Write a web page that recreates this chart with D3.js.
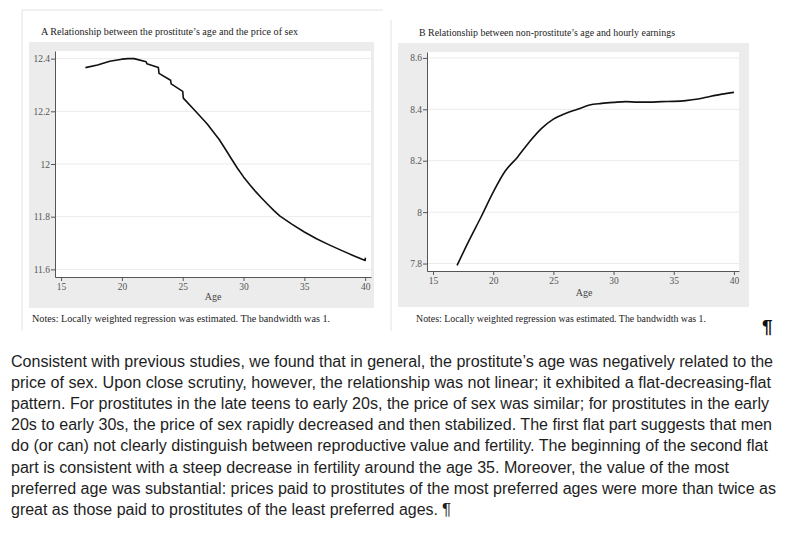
<!DOCTYPE html>
<html>
<head>
<meta charset="utf-8">
<script src="https://cdn.jsdelivr.net/npm/d3@7"></script>
<style>
  body { margin: 0; background: #fff; }
  svg { display: block; }
  .tick text { font-family: "Liberation Serif", "Times New Roman", serif; fill: #555; }
  .panel-title, .notes, .axis-label { font-family: "Liberation Serif", "Times New Roman", serif; fill: #222; }
  .para { font-family: "Liberation Sans", Arial, sans-serif; font-size: 16px; fill: #1e1e1e; }
</style>
</head>
<body>
<svg id="page" width="788" height="533"></svg>
<script>
// Panel A: prostitute's age vs log price of sex
const ageA = [17, 18, 19, 20, 20.5, 21, 22, 22.05, 23, 23.05, 24, 24.05, 25, 25.05, 26, 27, 28, 28.5, 29, 29.5, 30, 30.5, 31, 31.5, 32, 32.5, 33, 34, 35, 36, 37, 38, 39, 40, 40.02];
const priceA = [12.366, 12.376, 12.39, 12.398, 12.40, 12.40, 12.388, 12.381, 12.366, 12.344, 12.318, 12.304, 12.276, 12.25, 12.203, 12.153, 12.093, 12.057, 12.02, 11.984, 11.951, 11.922, 11.895, 11.87, 11.846, 11.823, 11.802, 11.771, 11.742, 11.716, 11.694, 11.673, 11.653, 11.634, 11.644];
const yTicksA = [11.6, 11.8, 12, 12.2, 12.4];

// Panel B: non-prostitute's age vs log hourly earnings
const ageB = [17, 18, 19, 20, 21, 22, 23, 24, 25, 26, 27, 28, 29, 30, 31, 32, 33, 34, 35, 36, 37, 38, 39, 40];
const earnB = [7.793, 7.89, 7.982, 8.078, 8.16, 8.213, 8.273, 8.325, 8.362, 8.384, 8.40, 8.417, 8.423, 8.427, 8.43, 8.428, 8.428, 8.43, 8.431, 8.434, 8.44, 8.45, 8.459, 8.466];
const yTicksB = [7.8, 8, 8.2, 8.4, 8.6];

const xTicks = [15, 20, 25, 30, 35, 40];

const paragraph = [
  "Consistent with previous studies, we found that in general, the prostitute\u2019s age was negatively related to the",
  "price of sex. Upon close scrutiny, however, the relationship was not linear; it exhibited a flat-decreasing-flat",
  "pattern. For prostitutes in the late teens to early 20s, the price of sex was similar; for prostitutes in the early",
  "20s to early 30s, the price of sex rapidly decreased and then stabilized. The first flat part suggests that men",
  "do (or can) not clearly distinguish between reproductive value and fertility. The beginning of the second flat",
  "part is consistent with a steep decrease in fertility around the age 35. Moreover, the value of the most",
  "preferred age was substantial: prices paid to prostitutes of the most preferred ages were more than twice as",
  "great as those paid to prostitutes of the least preferred ages."
];
const paraWidths = [762, 760, 758, 761, 757, 718, 765, 427];

const svg = d3.select("#page");

// light page frames around the two figures
svg.append("path").attr("d", "M22,331V10H383").attr("fill", "none").attr("stroke", "#e2e2e2");
svg.append("path").attr("d", "M391,331V20").attr("fill", "none").attr("stroke", "#e2e2e2");

function drawPanel(p) {
  // Stata style grey graph region and white plot region
  svg.append("rect")
    .attr("x", p.outer[0]).attr("y", p.outer[1])
    .attr("width", p.outer[2] - p.outer[0]).attr("height", p.outer[3] - p.outer[1])
    .attr("fill", "#ececec");
  svg.append("rect")
    .attr("x", p.plot[0]).attr("y", p.plot[1])
    .attr("width", p.plot[2] - p.plot[0]).attr("height", p.plot[3] - p.plot[1])
    .attr("fill", "#fff");

  const xScale = d3.scaleLinear().domain(p.xDomain).range([p.plot[0], p.plot[2]]);
  const yScale = d3.scaleLinear().domain(p.yDomain).range([p.plot[3], p.plot[1]]);

  // horizontal grid lines
  svg.append("g").selectAll("line")
    .data(p.yTicks)
    .enter().append("line")
    .attr("x1", p.plot[0]).attr("x2", p.plot[2])
    .attr("y1", d => yScale(d)).attr("y2", d => yScale(d))
    .attr("stroke", "#ebebeb").attr("stroke-width", 1);

  const xAxis = svg.append("g")
    .attr("transform", "translate(0," + p.plot[3] + ")")
    .call(d3.axisBottom(xScale).tickValues(xTicks).tickSize(4).tickPadding(2).tickSizeOuter(0));
  xAxis.selectAll("text").style("font-size", "9.5px");

  const yAxis = svg.append("g")
    .attr("transform", "translate(" + p.plot[0] + ",0)")
    .call(d3.axisLeft(yScale).tickValues(p.yTicks).tickFormat(d3.format("")).tickSize(4).tickPadding(1).tickSizeOuter(0));
  yAxis.selectAll("text").style("font-size", "9.5px");

  [xAxis, yAxis].forEach(g => {
    g.select(".domain").attr("stroke", "#555");
    g.selectAll(".tick line").attr("stroke", "#555");
  });

  const line = d3.line()
    .x((d, i) => xScale(p.x[i]))
    .y(d => yScale(d))
    .curve(p.curve);

  svg.append("path")
    .datum(p.y)
    .attr("d", line)
    .attr("fill", "none")
    .attr("stroke", "#111")
    .attr("stroke-width", 1.6)
    .attr("stroke-linejoin", "round");

  svg.append("text")
    .attr("class", "panel-title")
    .attr("x", p.titlePos[0]).attr("y", p.titlePos[1])
    .attr("textLength", p.titleLen).attr("lengthAdjust", "spacingAndGlyphs")
    .style("font-size", "10.5px")
    .text(p.title);

  svg.append("text")
    .attr("class", "axis-label")
    .attr("x", p.agePos[0]).attr("y", p.agePos[1])
    .attr("text-anchor", "middle")
    .style("font-size", "10px").style("fill", "#444")
    .text("Age");

  svg.append("text")
    .attr("class", "notes")
    .attr("x", p.notesPos[0]).attr("y", p.notesPos[1])
    .attr("textLength", p.notesLen).attr("lengthAdjust", "spacingAndGlyphs")
    .style("font-size", "10.5px")
    .text("Notes: Locally weighted regression was estimated. The bandwidth was 1.");
}

drawPanel({
  outer: [29, 42, 374, 308],
  plot: [55, 51, 371, 277],
  xDomain: [14.5, 40.48],
  yDomain: [11.571, 12.429],
  yTicks: yTicksA,
  x: ageA, y: priceA,
  curve: d3.curveLinear,
  title: "A Relationship between the prostitute\u2019s age and the price of sex",
  titlePos: [41, 35], titleLen: 257,
  agePos: [213, 300],
  notesPos: [32, 322], notesLen: 298
});

drawPanel({
  outer: [398, 43, 749, 307],
  plot: [427, 52, 739, 271],
  xDomain: [14.5, 40.42],
  yDomain: [7.771, 8.623],
  yTicks: yTicksB,
  x: ageB, y: earnB,
  curve: d3.curveMonotoneX,
  title: "B Relationship between non-prostitute\u2019s age and hourly earnings",
  titlePos: [419, 36], titleLen: 256,
  agePos: [584, 296],
  notesPos: [416, 322], notesLen: 290
});

// pilcrow after the figure
svg.append("text")
  .attr("x", 762).attr("y", 333)
  .style("font-family", "Liberation Sans, Arial, sans-serif")
  .style("font-size", "19px").style("font-weight", "bold").style("fill", "#111")
  .text("\u00b6");

// body paragraph below the figure
svg.append("g").selectAll("text")
  .data(paragraph)
  .enter().append("text")
  .attr("class", "para")
  .attr("x", 11)
  .attr("y", (d, i) => 366.5 + i * 21.2)
  .attr("textLength", (d, i) => paraWidths[i])
  .attr("lengthAdjust", "spacingAndGlyphs")
  .text(d => d);

svg.append("text")
  .attr("class", "para")
  .attr("x", 442).attr("y", 366.5 + 7 * 21.2)
  .style("font-size", "17px")
  .text("\u00b6");
</script>
</body>
</html>
